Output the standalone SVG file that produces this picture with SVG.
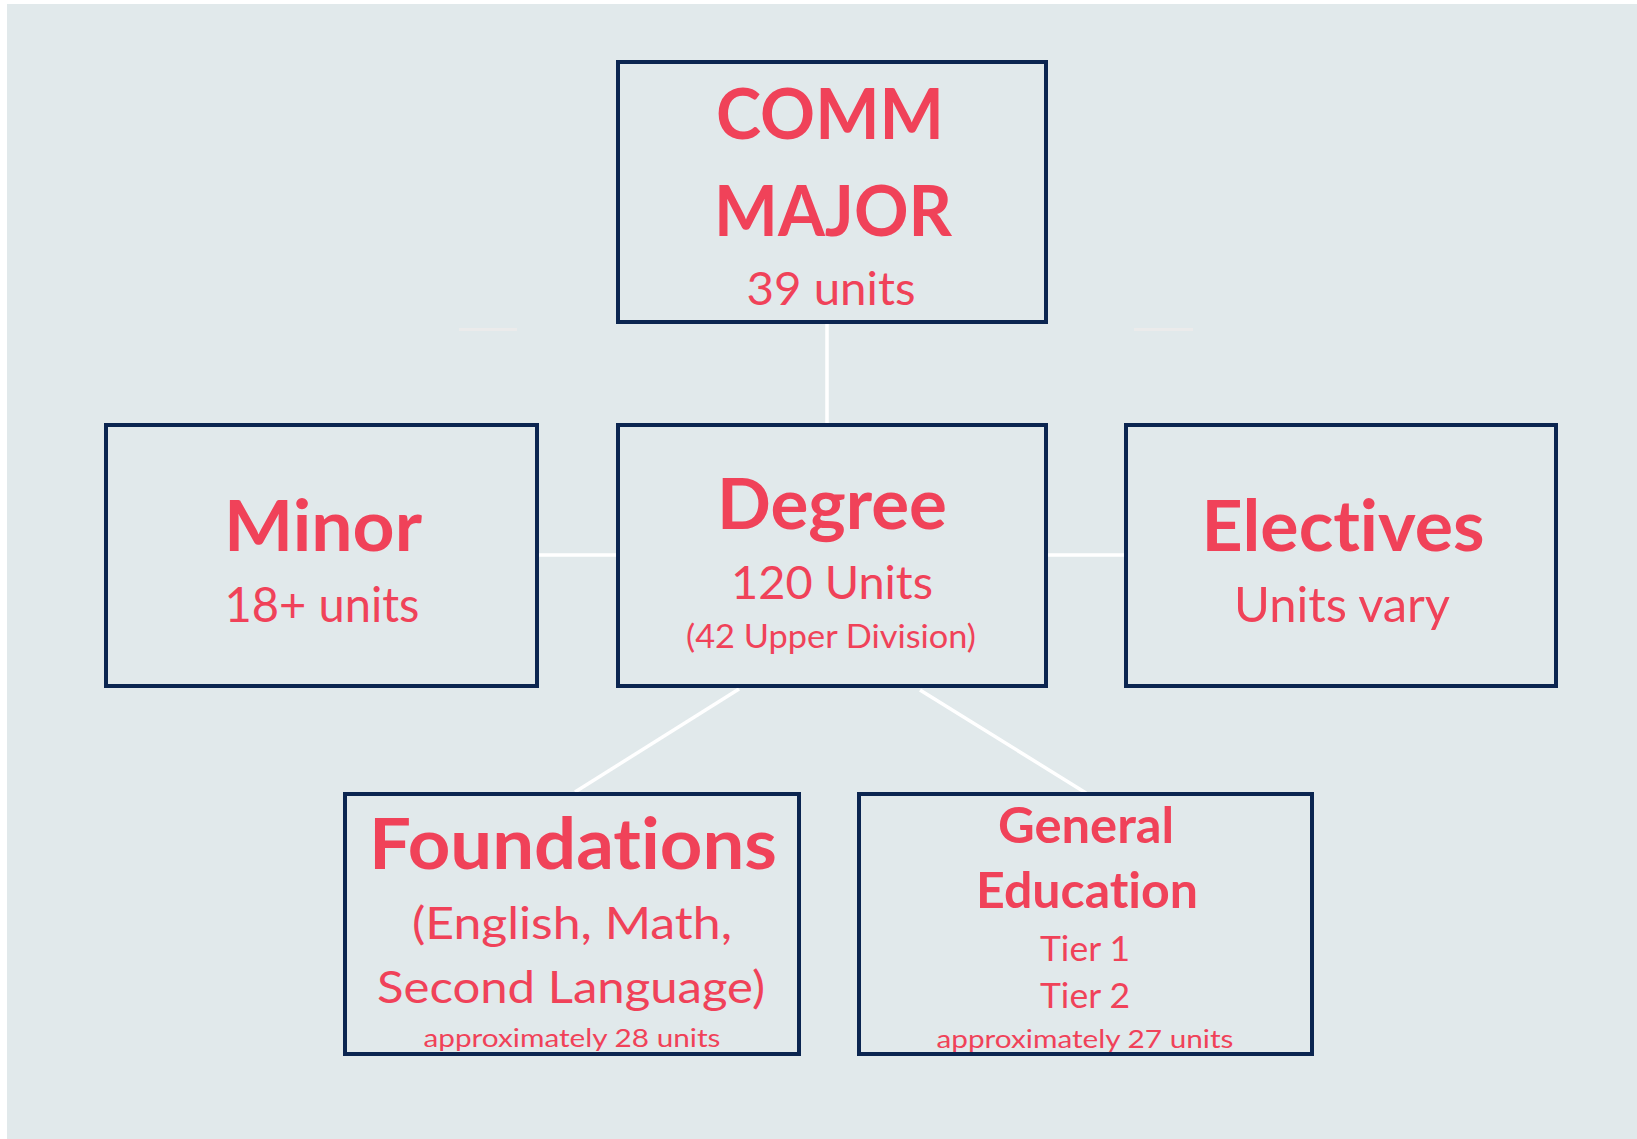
<svg xmlns="http://www.w3.org/2000/svg" width="1637" height="1139" viewBox="0 0 1637 1139">
  <style>
    .box { fill: #E1E9EB; stroke: #0B2550; stroke-width: 4; }
    .t { fill: #F04259; font-family: Lato, "Open Sans", "Liberation Sans", sans-serif; text-anchor: middle; font-variant-ligatures: none; font-feature-settings: "liga" 0, "clig" 0; }
    .b { font-weight: bold; }
    .conn { stroke: #FFFFFF; stroke-width: 3.5; fill: none; }
  </style>
  <rect x="0" y="0" width="1637" height="1139" fill="#FFFFFF"/>
  <rect x="7" y="4" width="1630" height="1135" fill="#E1E9EB"/>
  <rect x="459" y="328" width="58" height="3" fill="#EBEBEB"/>
  <rect x="1134" y="328" width="59" height="3" fill="#EBEBEB"/>

  <g id="connectors">
    <line class="conn" x1="827" y1="323" x2="827" y2="424"/>
    <line class="conn" x1="537" y1="555" x2="617" y2="555"/>
    <line class="conn" x1="1046" y1="555" x2="1125" y2="555"/>
    <line class="conn" x1="739" y1="689" x2="575" y2="792"/>
    <line class="conn" x1="920" y1="690" x2="1086" y2="793"/>
  </g>

  <g id="comm-major">
    <rect class="box" x="618" y="62" width="428" height="260"/>
    <text class="t b" x="830" y="139" font-size="71" textLength="228" lengthAdjust="spacingAndGlyphs">COMM</text>
    <text class="t b" x="833" y="236" font-size="71" textLength="238" lengthAdjust="spacingAndGlyphs">MAJOR</text>
    <text class="t" x="831" y="305" font-size="46" textLength="169" lengthAdjust="spacingAndGlyphs">39 units</text>
  </g>

  <g id="minor">
    <rect class="box" x="106" y="425" width="431" height="261"/>
    <text class="t b" x="323" y="551" font-size="71" textLength="198" lengthAdjust="spacingAndGlyphs">Minor</text>
    <text class="t" x="322" y="622" font-size="48" textLength="195" lengthAdjust="spacingAndGlyphs">18+ units</text>
  </g>

  <g id="degree">
    <rect class="box" x="618" y="425" width="428" height="261"/>
    <text class="t b" x="832" y="529" font-size="71" textLength="230" lengthAdjust="spacingAndGlyphs">Degree</text>
    <text class="t" x="832" y="599" font-size="47" textLength="202" lengthAdjust="spacingAndGlyphs">120 Units</text>
    <text class="t" x="831" y="648" font-size="32" textLength="290" lengthAdjust="spacingAndGlyphs">(42 Upper Division)</text>
  </g>

  <g id="electives">
    <rect class="box" x="1126" y="425" width="430" height="261"/>
    <text class="t b" x="1343" y="551" font-size="71" textLength="283" lengthAdjust="spacingAndGlyphs">Electives</text>
    <text class="t" x="1342" y="622" font-size="48" textLength="216" lengthAdjust="spacingAndGlyphs">Units vary</text>
  </g>

  <g id="foundations">
    <rect class="box" x="345" y="794" width="454" height="260"/>
    <text class="t b" x="573" y="869" font-size="71" textLength="408" lengthAdjust="spacingAndGlyphs">Foundations</text>
    <text class="t" x="572" y="939" font-size="45" textLength="320" lengthAdjust="spacingAndGlyphs">(English, Math,</text>
    <text class="t" x="571" y="1003" font-size="45" textLength="388" lengthAdjust="spacingAndGlyphs">Second Language)</text>
    <text class="t" x="572" y="1047" font-size="25" textLength="297" lengthAdjust="spacingAndGlyphs">approximately 28 units</text>
  </g>

  <g id="general-education">
    <rect class="box" x="859" y="794" width="453" height="260"/>
    <text class="t b" x="1086" y="843" font-size="49" textLength="176" lengthAdjust="spacingAndGlyphs">General</text>
    <text class="t b" x="1087" y="908" font-size="49" textLength="222" lengthAdjust="spacingAndGlyphs">Education</text>
    <text class="t" x="1085" y="961" font-size="35" textLength="90" lengthAdjust="spacingAndGlyphs">Tier 1</text>
    <text class="t" x="1085" y="1008" font-size="35" textLength="90" lengthAdjust="spacingAndGlyphs">Tier 2</text>
    <text class="t" x="1085" y="1048" font-size="25" textLength="297" lengthAdjust="spacingAndGlyphs">approximately 27 units</text>
  </g>
</svg>
